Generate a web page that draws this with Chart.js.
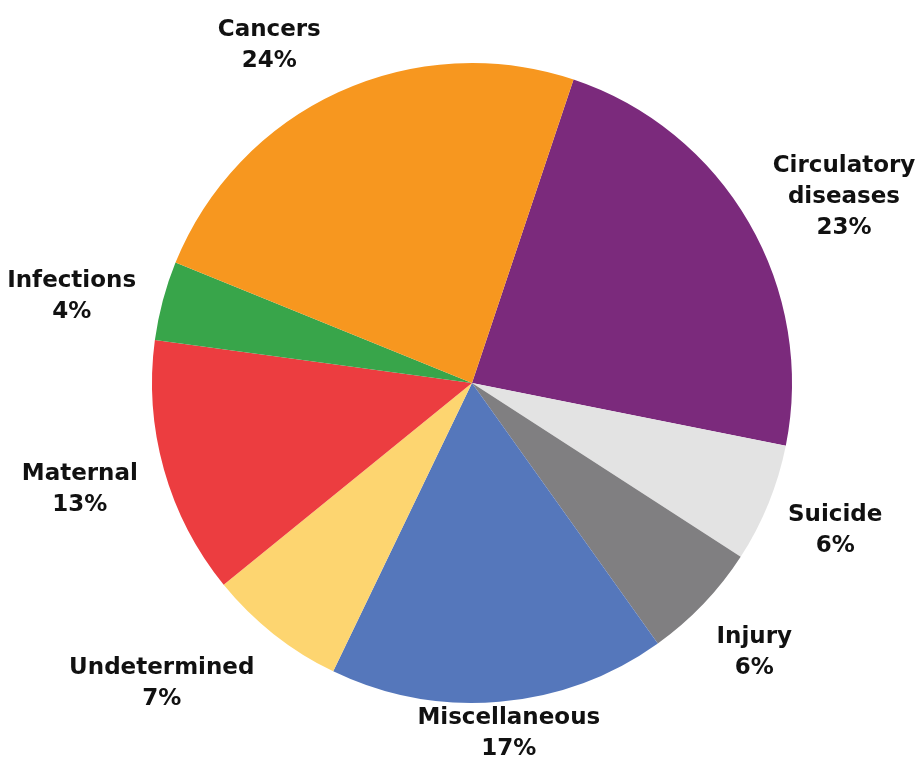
<!DOCTYPE html>
<html>
<head>
<meta charset="utf-8">
<script src="https://cdn.jsdelivr.net/npm/chart.js@4.4.0/dist/chart.umd.min.js"></script>
<style>
  html, body { margin: 0; padding: 0; background: #fff; }
  #wrap { width: 917px; height: 758px; position: relative; }
</style>
</head>
<body>
<div id="wrap"><canvas id="myChart"></canvas></div>
<script>
/* data, clockwise from the Circulatory slice */
const categories = ['Circulatory diseases', 'Suicide', 'Injury', 'Miscellaneous',
                    'Undetermined', 'Maternal', 'Infections', 'Cancers'];
const shares = [23, 6, 6, 17, 7, 13, 4, 24];
const colours = ['#7b2a7c', '#e3e3e3', '#807f81', '#5577bb',
                 '#fdd570', '#ec3d40', '#38a54a', '#f7971f'];

/* where each label sits: angle shift (deg) and distance in radii */
const labelAngleShift = [3.5, 0, 0, -1.1, 7.6, 0.5, -2.7, -6.3];
const labelRadius = [1.30, 1.225, 1.22, 1.10, 1.35, 1.27, 1.28, 1.23];

const outsideLabels = {
    id: 'outsideLabels',
    afterDraw(chart) {
        const ctx = chart.ctx;
        const arcs = chart.getDatasetMeta(0).data;
        ctx.save();
        ctx.font = 'bold 23px "DejaVu Sans"';
        ctx.fillStyle = '#111';
        ctx.textAlign = 'center';
        ctx.textBaseline = 'middle';
        arcs.forEach((arc, i) => {
            const mid = (arc.startAngle + arc.endAngle) / 2 + labelAngleShift[i] * Math.PI / 180;
            const r = arc.outerRadius * labelRadius[i];
            const cx = arc.x + Math.cos(mid) * r;
            const cy = arc.y + Math.sin(mid) * r;
            const lines = categories[i].split(' ').concat(shares[i] + '%');
            lines.forEach((line, j) => {
                ctx.fillText(line, cx, cy + (j - (lines.length - 1) / 2) * 31);
            });
        });
        ctx.restore();
    }
};

new Chart(document.getElementById('myChart'), {
    type: 'pie',
    data: {
        labels: categories,
        datasets: [{
            data: shares,
            backgroundColor: colours,
            borderWidth: 0
        }]
    },
    options: {
        responsive: true,
        maintainAspectRatio: false,
        animation: false,
        rotation: 18.5,
        layout: { padding: { left: 152, right: 125, top: 63, bottom: 55 } },
        plugins: {
            legend: { display: false },
            tooltip: { enabled: false }
        }
    },
    plugins: [outsideLabels]
});
</script>
</body>
</html>
